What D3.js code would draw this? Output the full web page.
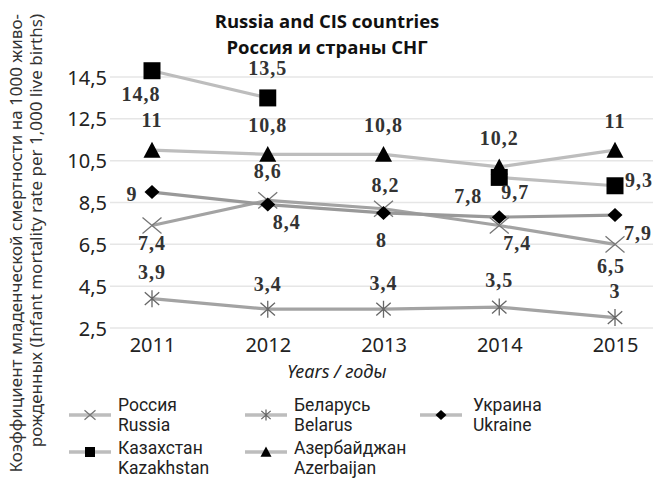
<!DOCTYPE html>
<html><head><meta charset="utf-8">
<script src="https://cdn.jsdelivr.net/npm/d3@7"></script>
<style>html,body{margin:0;padding:0;background:#fff;}svg{display:block;}</style>
</head><body>
<svg id="chart" width="653" height="479"></svg>
<script>
const years = ["2011", "2012", "2013", "2014", "2015"];
const yTicks = [2.5, 4.5, 6.5, 8.5, 10.5, 12.5, 14.5];
const russia = [7.4, 8.6, 8.2, 7.4, 6.5];
const belarus = [3.9, 3.4, 3.4, 3.5, 3];
const ukraine = [9, 8.4, 8, 7.8, 7.9];
const kazakhstan = [14.8, 13.5, null, 9.7, 9.3];
const azerbaijan = [11, 10.8, 10.8, 10.2, 11];
const seriesNames = [["Россия", "Russia"], ["Беларусь", "Belarus"], ["Украина", "Ukraine"], ["Казахстан", "Kazakhstan"], ["Азербайджан", "Azerbaijan"]];
const titleLines = ["Russia and CIS countries", "Россия и страны СНГ"];
const yTitleLines = ["Коэффициент младенческой смертности на 1000 живо-", "рожденных (Infant mortality rate per 1,000 live births)"];
const xTitle = "Years / годы";

// layout / style (not data)
const labelOffsets = [
  [[0,24],[0,-22],[2,-17],[18,24],[-4,29]],
  [[0,-20],[0,-18],[0,-19],[0,-20],[0,-20]],
  [[-20,9],[19,24],[-2,34],[-31,-14],[23,25]],
  [[-11,30],[0,-23],null,[16,22],[24,1]],
  [[0,-23],[0,-22],[0,-22],[0,-22],[0,-22]]
];

const svg = d3.select("#chart");
const x = d3.scalePoint().domain(years).range([152, 615]);
const y = d3.scaleLinear().domain([2.5, 14.5]).range([328, 77]);

// gridlines
svg.append("g").selectAll("line").data(yTicks).join("line")
  .attr("x1", 110).attr("x2", 653)
  .attr("y1", d => y(d)).attr("y2", d => y(d))
  .attr("stroke", "#e6e6e6").attr("stroke-width", 1.5);

// y axis
const yAxis = svg.append("g").attr("transform", "translate(107,0)")
  .call(d3.axisLeft(y).tickValues(yTicks).tickSize(0).tickPadding(0).tickFormat(d => String(d).replace(".", ",")));
yAxis.select(".domain").remove();
yAxis.selectAll("text").attr("font-family", "Noto Sans").attr("font-size", 20).attr("fill", "#222").attr("dy", "0.35em");

// x axis
const xAxis = svg.append("g").attr("transform", "translate(0,337)")
  .call(d3.axisBottom(x).tickSize(0).tickPadding(0));
xAxis.select(".domain").remove();
xAxis.selectAll("text").attr("font-family", "Noto Sans").attr("font-size", 20).attr("fill", "#222").attr("dy", "0.75em");

// symbols
const symX = { draw(ctx, size) { const r = Math.sqrt(size) / 2; ctx.moveTo(-r, -r * 0.85); ctx.lineTo(r, r * 0.85); ctx.moveTo(-r, r * 0.85); ctx.lineTo(r, -r * 0.85); } };
const symAst = { draw(ctx, size) { const r = Math.sqrt(size) / 2; ctx.moveTo(-r * 0.85, -r * 0.75); ctx.lineTo(r * 0.85, r * 0.75); ctx.moveTo(-r * 0.85, r * 0.75); ctx.lineTo(r * 0.85, -r * 0.75); ctx.moveTo(0, -r); ctx.lineTo(0, r); } };
const symDiamond = { draw(ctx, size) { const r = Math.sqrt(size) / 2; ctx.moveTo(0, -r * 0.93); ctx.lineTo(r, 0); ctx.lineTo(0, r * 0.93); ctx.lineTo(-r, 0); ctx.closePath(); } };
const symSquare = { draw(ctx, size) { const r = Math.sqrt(size) / 2; ctx.rect(-r, -r, 2 * r, 2 * r); } };
const symTri = { draw(ctx, size) { const r = Math.sqrt(size) / 2; ctx.moveTo(0, -r * 1.0); ctx.lineTo(r, r * 0.88); ctx.lineTo(-r, r * 0.88); ctx.closePath(); } };

const series = [
  { vals: russia, line: "#a3a3a3", sym: symX, size: 19 * 19, fill: "none", stroke: "#777", sw: 1.3, lsize: 11 * 11 },
  { vals: belarus, line: "#a3a3a3", sym: symAst, size: 17 * 17, fill: "none", stroke: "#666", sw: 1.3, lsize: 11 * 11 },
  { vals: ukraine, line: "#999", sym: symDiamond, size: 15 * 15, fill: "#000", stroke: "none", sw: 0, lsize: 11 * 11 },
  { vals: kazakhstan, line: "#bdbdbd", sym: symSquare, size: 17 * 17, fill: "#000", stroke: "none", sw: 0, lsize: 10 * 10 },
  { vals: azerbaijan, line: "#bdbdbd", sym: symTri, size: 17 * 17, fill: "#000", stroke: "none", sw: 0, lsize: 11 * 11 }
];

const lineGen = d3.line().defined(d => d.v != null).x(d => x(d.year)).y(d => y(d.v));

// draw lines (light ones first)
[3, 4, 1, 0, 2].forEach(i => {
  const s = series[i];
  const pts = years.map((yr, j) => ({ year: yr, v: s.vals[j] }));
  svg.append("path").datum(pts).attr("d", lineGen)
    .attr("fill", "none").attr("stroke", s.line).attr("stroke-width", 3.2).attr("stroke-linejoin", "round");
});

// markers
[3, 4, 1, 0, 2].forEach(i => {
  const s = series[i];
  const pts = years.map((yr, j) => ({ year: yr, v: s.vals[j] })).filter(d => d.v != null);
  svg.append("g").selectAll("path").data(pts).join("path")
    .attr("transform", d => `translate(${x(d.year)},${y(d.v)})`)
    .attr("d", d3.symbol().type(s.sym).size(s.size))
    .attr("fill", s.fill).attr("stroke", s.stroke).attr("stroke-width", s.sw);
});

// value labels
series.forEach((s, i) => {
  const pts = years.map((yr, j) => ({ year: yr, v: s.vals[j], off: labelOffsets[i][j] })).filter(d => d.v != null);
  svg.append("g").selectAll("text").data(pts).join("text")
    .attr("x", d => x(d.year) + d.off[0])
    .attr("y", d => y(d.v) + d.off[1])
    .attr("text-anchor", "middle")
    .attr("font-family", "Liberation Serif").attr("font-weight", "bold").attr("font-size", 20)
    .attr("letter-spacing", 1).attr("fill", "#333")
    .text(d => String(d.v).replace(".", ","));
});

// title
svg.append("g").selectAll("text").data(titleLines).join("text")
  .attr("x", 327).attr("y", (d, i) => 28 + i * 26)
  .attr("text-anchor", "middle").attr("font-family", "Open Sans").attr("font-weight", "bold")
  .attr("font-size", 18.5).attr("fill", "#111").text(d => d);

// y title
svg.append("g").selectAll("text").data(yTitleLines).join("text")
  .attr("transform", (d, i) => `translate(${22 + i * 20},14) rotate(-90)`)
  .attr("text-anchor", "end").attr("font-family", "Noto Sans").attr("font-size", 17)
  .attr("fill", "#333").text(d => d);

// x title
svg.append("text").attr("x", 287).attr("y", 378).attr("font-family", "Noto Sans")
  .attr("font-style", "italic").attr("font-size", 18).attr("fill", "#222").text(xTitle);

// legend
const legPos = [[69, 415], [245, 415], [420, 415], [69, 452], [245, 452]];
series.forEach((s, i) => {
  const [lx, ly] = legPos[i];
  const g = svg.append("g").attr("transform", `translate(${lx},${ly})`);
  g.append("line").attr("x1", 0).attr("x2", 42).attr("y1", 0).attr("y2", 0)
    .attr("stroke", "#bdbdbd").attr("stroke-width", 3.5);
  g.append("path").attr("transform", "translate(21,0)")
    .attr("d", d3.symbol().type(s.sym).size(s.lsize))
    .attr("fill", s.fill).attr("stroke", s.stroke).attr("stroke-width", s.sw);
  g.selectAll("text").data(seriesNames[i]).join("text")
    .attr("x", i === 2 ? 53 : 49).attr("y", (d, k) => (i < 3 ? -4 : 2) + k * 20)
    .attr("font-family", "Roboto").attr("font-size", 17.5).attr("fill", "#222").text(d => d);
});
</script>
</body></html>
